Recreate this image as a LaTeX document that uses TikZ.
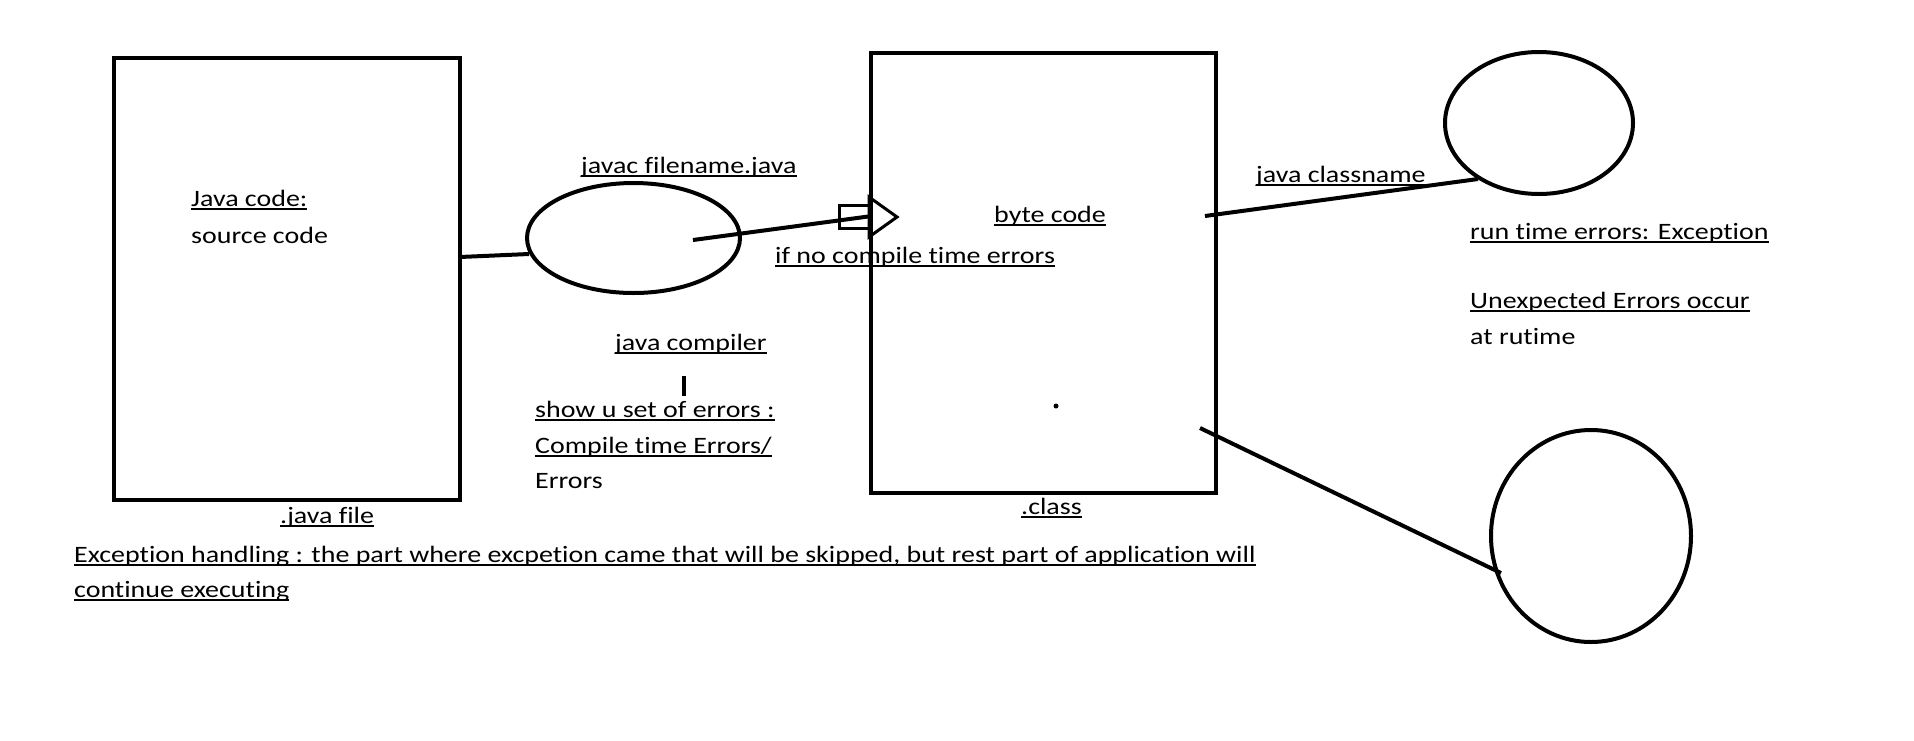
\documentclass[tikz,border=0pt]{standalone}
\usepackage{fontspec}
\setmainfont{Carlito}[FakeStretch=1.19,Ligatures=NoCommon]
\usetikzlibrary{shapes.geometric}
\newcommand{\ulx}[1]{\leavevmode\setbox0=\hbox{#1}\rlap{\rule[-4pt]{\wd0}{1.8pt}}\box0}
\begin{document}
\begin{tikzpicture}[x=1pt,y=-1pt,
  box/.style={draw,line width=4pt,rectangle,inner sep=0pt,minimum width=#1},
  oval/.style={draw,line width=4pt,ellipse,inner sep=0pt},
  wire/.style={line width=4pt},
  lbl/.style={anchor=base west,inner sep=0pt,font=\fontsize{23.5}{28}\selectfont}]
\useasboundingbox (0,0) rectangle (1914,740);
\fill[white] (0,0) rectangle (1914,740);
% texts
\node[lbl] (t1) at (191,206) {\ulx{Java code:}};
\node[lbl] (t2) at (191,243) {source code};
\node[lbl] (t3) at (581,173) {\ulx{javac filename.java}};
\node[lbl] (t4) at (775,263) {\ulx{if no compile time errors}};
\node[lbl] (t5) at (615,350) {\ulx{java compiler}};
\node[lbl] (t6) at (535,417) {\ulx{show u set of errors :}};
\node[lbl] (t7) at (535,453) {\ulx{Compile time Errors/}};
\node[lbl] (t8) at (535,488) {Errors};
\node[lbl] (t9) at (280,523) {\ulx{.java file}};
\node[lbl] (t10) at (74,562) {\ulx{Exception handling : the part where excpetion came that will be skipped, but rest part of application will}};
\node[lbl] (t11) at (74,597) {\ulx{continue executing}};
\node[lbl] (t12) at (994,222) {\ulx{byte code}};
\node[lbl] (t13) at (1256,182) {\ulx{java classname}};
\node[lbl] (t14) at (1470,239) {\ulx{run time errors: Exception}};
\node[lbl] (t15) at (1470,308) {\ulx{Unexpected Errors occur}};
\node[lbl] (t16) at (1470,344) {at rutime};
\node[lbl] (t17) at (1021,514) {\ulx{.class}};
% shapes
\node[box=346pt,minimum height=442pt] (src) at (287,279) {};
\node[box=345pt,minimum height=440pt] (cls) at (1043.5,273) {};
\node[oval,minimum width=213pt,minimum height=110pt] (comp) at (633.5,238) {};
\node[oval,minimum width=188pt,minimum height=142pt] (rt) at (1539,123) {};
\node[oval,minimum width=200pt,minimum height=212pt] (ex) at (1591,536) {};
% connector end points
\coordinate (a1) at (460,257);
\coordinate (a2) at (529,254);
\coordinate (b1) at (693,240);
\coordinate (b2) at (872,216);
\coordinate (c1) at (1205,216);
\coordinate (c2) at (1478,179);
\coordinate (d1) at (1200,428);
\coordinate (d2) at (1501,573);
\coordinate (tk1) at (684,376);
\coordinate (tk2) at (684,396);
% connectors
\draw[wire] (a1) -- (a2);
\draw[wire] (b1) -- (b2);
\draw[wire] (c1) -- (c2);
\draw[wire] (d1) -- (d2);
\draw[wire] (tk1) -- (tk2);
% hollow arrow
\draw[line width=3pt] (839,205) rectangle (869,228);
\draw[line width=3pt,line join=miter] (869,197) -- (897,217) -- (869,237) -- cycle;
% dot
\fill (1056,406) circle (2.5pt);
\end{tikzpicture}
\end{document}
